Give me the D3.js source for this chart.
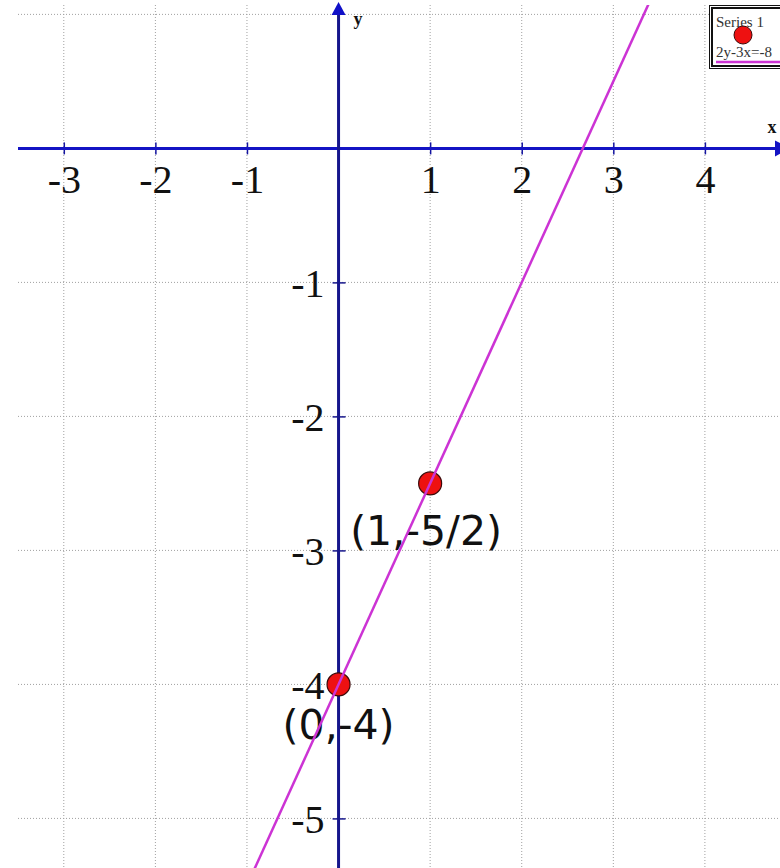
<!DOCTYPE html>
<html>
<head>
<meta charset="utf-8">
<script src="https://cdn.jsdelivr.net/npm/d3@7"></script>
<style>
  html, body { margin: 0; padding: 0; background: #fff; }
  svg { display: block; }
</style>
</head>
<body>
<svg id="chart" width="780" height="868"></svg>
<script>
// Graph of the linear equation 2y - 3x = -8 with two marked points.
const xTicks = [-3, -2, -1, 1, 2, 3, 4];
const yTicks = [-1, -2, -3, -4, -5];
const gridX = [-3, -2, -1, 0, 1, 2, 3, 4];
const gridY = [1, 0, -1, -2, -3, -4, -5];

// Endpoints of the line 2y - 3x = -8 (both satisfy the equation)
const lineX = [-1, 3.4];
const lineY = [-5.5, 1.1];

// Marked points and their labels
const pointX = [0, 1];
const pointY = [-4, -2.5];
const pointLabels = ["(0,-4)", "(1,-5/2)"];

const legendSeries = ["Series 1", "2y-3x=-8"];

const plot = { left: 18, right: 780, top: 5, bottom: 868 };

const x = d3.scaleLinear().domain([-3.5, 4.82]).range([plot.left, plot.right]);
const y = d3.scaleLinear().domain([1.07, -5.37]).range([plot.top, plot.bottom]);

const svg = d3.select("#chart");

svg.append("defs").append("clipPath").attr("id", "plotClip")
  .append("rect")
  .attr("x", plot.left).attr("y", plot.top)
  .attr("width", plot.right - plot.left).attr("height", plot.bottom - plot.top);

// Dotted grid
const grid = svg.append("g").attr("class", "grid")
  .attr("stroke", "#a0a0a0").attr("stroke-width", 1).attr("stroke-dasharray", "1,2");
grid.selectAll("line.v").data(gridX).join("line").attr("class", "v")
  .attr("x1", d => x(d)).attr("x2", d => x(d))
  .attr("y1", plot.top).attr("y2", plot.bottom);
grid.selectAll("line.h").data(gridY).join("line").attr("class", "h")
  .attr("x1", plot.left).attr("x2", plot.right)
  .attr("y1", d => y(d)).attr("y2", d => y(d));

// Point labels (drawn beneath the axes and the line)
const labelOffsets = [[-56, 55], [-80, 62]];
svg.append("g").selectAll("text").data(pointX).join("text")
  .attr("x", (d, i) => x(d) + labelOffsets[i][0])
  .attr("y", (d, i) => y(pointY[i]) + labelOffsets[i][1])
  .attr("font-family", "'DejaVu Sans', Verdana, sans-serif")
  .attr("font-size", 41)
  .attr("fill", "#111")
  .text((d, i) => pointLabels[i]);

// X axis
const xAxis = svg.append("g")
  .attr("transform", `translate(0,${y(0)})`)
  .call(d3.axisBottom(x).tickValues(xTicks).tickFormat(d => String(d)).tickSizeOuter(0));
xAxis.select(".domain").remove();
xAxis.append("line")
  .attr("x1", plot.left).attr("x2", 776).attr("y1", 0).attr("y2", 0)
  .attr("stroke", "#1414c4").attr("stroke-width", 3);
xAxis.append("path")
  .attr("d", "M775,-8L775,8L790,0Z")
  .attr("fill", "#1414c4");
xAxis.selectAll(".tick line")
  .attr("y1", -6).attr("y2", 6)
  .attr("stroke", "#1414a0").attr("stroke-width", 1.5);
xAxis.selectAll(".tick text")
  .attr("y", 45).attr("dy", 0)
  .attr("font-family", "'Liberation Serif', 'Times New Roman', serif")
  .attr("font-size", 40)
  .attr("fill", "#111");
xAxis.append("text")
  .attr("x", 772).attr("y", 133)
  .attr("font-family", "'Liberation Serif', serif")
  .attr("font-weight", "bold").attr("font-size", 18)
  .attr("fill", "#111").text("x")
  .attr("transform", `translate(0,${-y(0)})`);

// Y axis
const yAxis = svg.append("g")
  .attr("transform", `translate(${x(0)},0)`)
  .call(d3.axisLeft(y).tickValues(yTicks).tickFormat(d => String(d)).tickSizeOuter(0));
yAxis.select(".domain").remove();
yAxis.append("line")
  .attr("x1", 0).attr("x2", 0).attr("y1", 12).attr("y2", plot.bottom)
  .attr("stroke", "#16168c").attr("stroke-width", 3);
yAxis.append("path")
  .attr("d", "M-7,15L7,15L0,2Z")
  .attr("fill", "#1010c8");
yAxis.selectAll(".tick line")
  .attr("x1", -6).attr("x2", 7)
  .attr("stroke", "#16168c").attr("stroke-width", 1.5);
yAxis.selectAll(".tick text")
  .attr("x", -14).attr("dy", "0.34em")
  .attr("font-family", "'Liberation Serif', 'Times New Roman', serif")
  .attr("font-size", 40)
  .attr("fill", "#111");
yAxis.append("text")
  .attr("x", 15).attr("y", 25)
  .attr("text-anchor", "start")
  .attr("font-family", "'Liberation Serif', serif")
  .attr("font-weight", "bold").attr("font-size", 18)
  .attr("fill", "#111").text("y");

// Marked points
svg.append("g").selectAll("circle").data(pointX).join("circle")
  .attr("cx", d => x(d))
  .attr("cy", (d, i) => y(pointY[i]))
  .attr("r", 11.5)
  .attr("fill", "#ee1111")
  .attr("stroke", "#3a0a0a").attr("stroke-width", 1.2);

// The line 2y - 3x = -8
const lineData = lineX.map((d, i) => [d, lineY[i]]);
svg.append("path")
  .datum(lineData)
  .attr("clip-path", "url(#plotClip)")
  .attr("fill", "none")
  .attr("stroke", "#cc33d4")
  .attr("stroke-width", 2.5)
  .attr("d", d3.line().x(d => x(d[0])).y(d => y(d[1])));

// Legend
const legend = svg.append("g").attr("class", "legend");
legend.append("rect")
  .attr("x", 709.5).attr("y", 5.5).attr("width", 90).attr("height", 63)
  .attr("fill", "#fff").attr("stroke", "#111").attr("stroke-width", 1);
legend.append("rect")
  .attr("x", 712).attr("y", 8).attr("width", 90).attr("height", 58)
  .attr("fill", "none").attr("stroke", "#111").attr("stroke-width", 2);
legend.append("text")
  .attr("x", 716).attr("y", 27)
  .attr("font-family", "'Liberation Serif', serif").attr("font-size", 15)
  .attr("fill", "#333").text(legendSeries[0]);
legend.append("circle")
  .attr("cx", 743).attr("cy", 35).attr("r", 9)
  .attr("fill", "#ee1111").attr("stroke", "#3a0a0a").attr("stroke-width", 1);
legend.append("text")
  .attr("x", 716).attr("y", 57)
  .attr("font-family", "'Liberation Serif', serif").attr("font-size", 15)
  .attr("fill", "#333").text(legendSeries[1]);
legend.append("line")
  .attr("x1", 716).attr("x2", 780).attr("y1", 62).attr("y2", 62)
  .attr("stroke", "#cc33d4").attr("stroke-width", 2.5);
</script>
</body>
</html>
